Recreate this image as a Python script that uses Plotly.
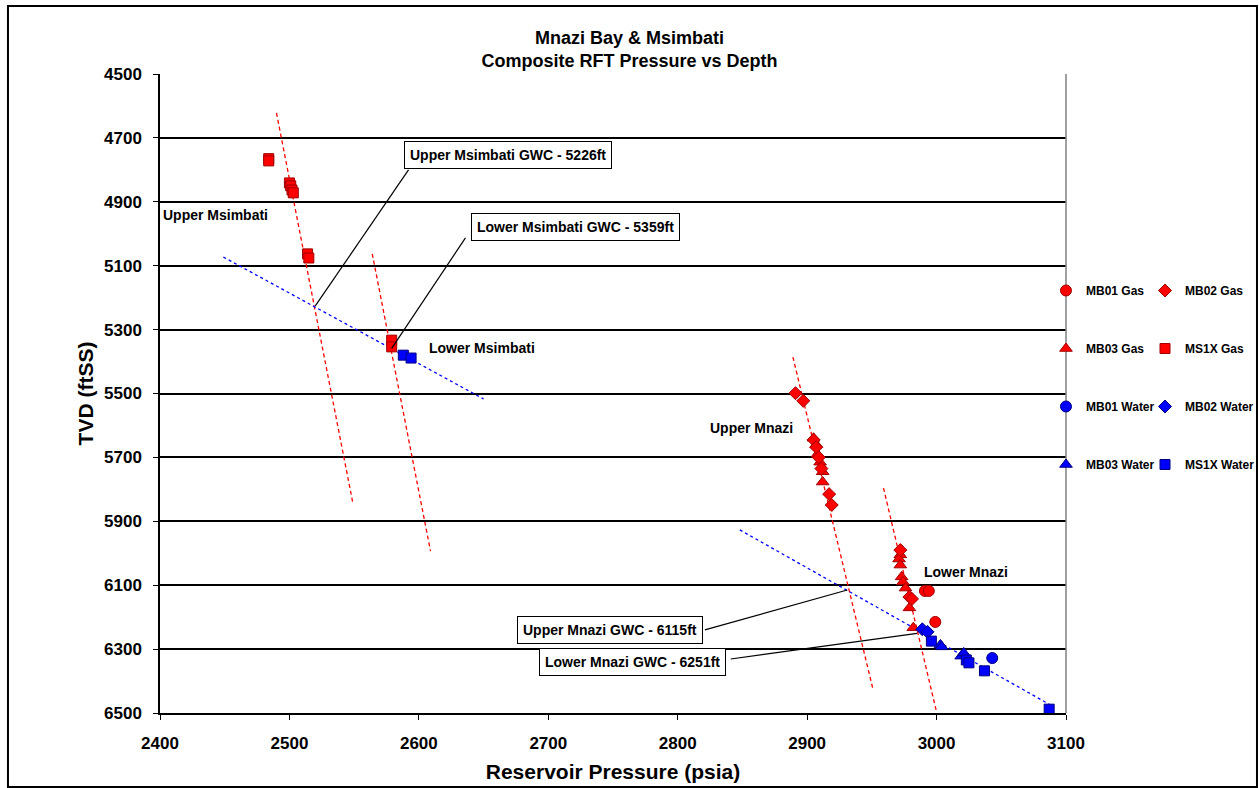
import plotly.graph_objects as go

# ---- RFT pressure (psia) / depth (ftSS) points by well and fluid ----
mb01_gas_p = [2991, 2994, 2999]
mb01_gas_d = [6118, 6118, 6215]

mb02_gas_p = [2891, 2897, 2905, 2907, 2909, 2911, 2917, 2919, 2972, 2979, 2981]
mb02_gas_d = [5499, 5523, 5645, 5668, 5700, 5735, 5815, 5849, 5990, 6137, 6143]

mb03_gas_p = [2905, 2907, 2908, 2910, 2912, 2912, 2972, 2971, 2972, 2973, 2974, 2976, 2979, 2982]
mb03_gas_d = [5640, 5660, 5690, 5715, 5745, 5777, 6005, 6018, 6037, 6074, 6090, 6109, 6171, 6233]

ms1x_gas_p = [2484, 2484, 2500, 2501, 2502, 2503, 2514, 2515, 2579, 2579]
ms1x_gas_d = [4765, 4772, 4841, 4850, 4863, 4872, 5063, 5076, 5333, 5354]

mb01_water_p = [3043]
mb01_water_d = [6328]

mb02_water_p = [2989, 2993]
mb02_water_d = [6238, 6246]

mb03_water_p = [3003, 3004, 3019, 3021]
mb03_water_d = [6287, 6293, 6322, 6312]

ms1x_water_p = [2588, 2594, 2996, 3023, 3025, 3037, 3087]
ms1x_water_d = [5380, 5389, 6275, 6334, 6343, 6368, 6488]

# ---- fitted gradient lines (end points) ----
gas_lines = {
    "Upper Msimbati": ([2490, 2549], [4622, 5843]),
    "Lower Msimbati": ([2564, 2609], [5063, 5993]),
    "Upper Mnazi": ([2889, 2951], [5386, 6428]),
    "Lower Mnazi": ([2959, 3000], [5796, 6497]),
}
water_lines = {
    "Msimbati": ([2449, 2650], [5073, 5517]),
    "Mnazi": ([2848, 3088], [5927, 6475]),
}

# ---- gas-water contacts: label, pressure at contact, depth ----
gwc_names = ["Upper Msimbati GWC - 5226ft", "Lower Msimbati GWC - 5359ft",
             "Upper Mnazi GWC - 6115ft", "Lower Mnazi GWC - 6251ft"]
gwc_pressure = [2520, 2579, 2931, 2985]
gwc_depth = [5226, 5359, 6115, 6251]
# label box centres and leader-line tails (pressure, depth)
gwc_box = [(2669, 4755), (2721, 4979), (2748, 6240), (2765, 6340)]
gwc_tail = [(2592, 4800), (2636, 5013), (2821, 6240), (2841, 6331)]

zone_names = ["Upper Msimbati", "Lower Msimbati", "Upper Mnazi", "Lower Mnazi"]
zone_pos = [(2443, 4941), (2649, 5358), (2857, 5608), (3023, 6059)]

FONT = "Arial, Liberation Sans, sans-serif"
RED, RED_EDGE = "#FF0000", "#A00000"
BLUE, BLUE_EDGE = "#0000FF", "#000080"

fig = go.Figure()

for name, (px, dy) in gas_lines.items():
    fig.add_trace(go.Scatter(x=px, y=dy, mode="lines", showlegend=False, hoverinfo="skip",
                             line=dict(color=RED, width=1.3, dash="4px,3px")))
for name, (px, dy) in water_lines.items():
    fig.add_trace(go.Scatter(x=px, y=dy, mode="lines", showlegend=False, hoverinfo="skip",
                             line=dict(color=BLUE, width=1.3, dash="3px,3px")))

series = [
    ("MB01 Gas", mb01_gas_p, mb01_gas_d, "circle", RED, RED_EDGE, "legend", 11),
    ("MB03 Gas", mb03_gas_p, mb03_gas_d, "triangle-up", RED, RED_EDGE, "legend", 11),
    ("MB01 Water", mb01_water_p, mb01_water_d, "circle", BLUE, BLUE_EDGE, "legend", 11),
    ("MB03 Water", mb03_water_p, mb03_water_d, "triangle-up", BLUE, BLUE_EDGE, "legend", 11),
    ("MB02 Gas", mb02_gas_p, mb02_gas_d, "diamond", RED, RED_EDGE, "legend2", 10),
    ("MS1X Gas", ms1x_gas_p, ms1x_gas_d, "square", RED, RED_EDGE, "legend2", 10),
    ("MB02 Water", mb02_water_p, mb02_water_d, "diamond", BLUE, BLUE_EDGE, "legend2", 10),
    ("MS1X Water", ms1x_water_p, ms1x_water_d, "square", BLUE, BLUE_EDGE, "legend2", 10),
]
for i, (name, px, dy, sym, col, edge, leg, size) in enumerate(series):
    fig.add_trace(go.Scatter(
        x=px, y=dy, mode="markers", name=name, legend=leg, legendgroup=f"g{i}",
        marker=dict(symbol=sym, size=size, color=col, line=dict(color=edge, width=1)),
    ))

# leader lines from label boxes to the contacts
for (tx, ty), gx, gy in zip(gwc_tail, gwc_pressure, gwc_depth):
    fig.add_shape(type="line", xref="x", yref="y", x0=tx, y0=ty, x1=gx, y1=gy,
                  line=dict(color="black", width=1.2))

annotations = []
for text, (bx, by) in zip(gwc_names, gwc_box):
    annotations.append(dict(x=bx, y=by, xref="x", yref="y", text=text, showarrow=False,
                            font=dict(family=FONT, size=14, color="black", weight="bold"),
                            bgcolor="white", bordercolor="black", borderwidth=1, borderpad=5))
for text, (zx, zy) in zip(zone_names, zone_pos):
    annotations.append(dict(x=zx, y=zy, xref="x", yref="y", text=text, showarrow=False,
                            font=dict(family=FONT, size=14, color="black", weight="bold")))

# outer chart frame
fig.add_shape(type="rect", xref="paper", yref="paper",
              x0=-0.1678, x1=1.2108, y0=-0.1158, y1=1.1064,
              line=dict(color="black", width=2), layer="below")
# plot-area right edge
fig.add_shape(type="line", xref="paper", yref="paper", x0=1, x1=1, y0=0, y1=1,
              line=dict(color="#808080", width=1.5))

legend_style = dict(font=dict(family=FONT, size=12, color="black", weight="bold"),
                    bgcolor="rgba(0,0,0,0)", tracegroupgap=39, itemwidth=30,
                    xanchor="left", yanchor="top", orientation="v")

fig.update_layout(
    width=1259, height=788,
    margin=dict(l=160, r=193, t=74, b=75, pad=0, autoexpand=False),
    paper_bgcolor="white", plot_bgcolor="white",
    font=dict(family=FONT, color="black"),
    title=dict(text="Mnazi Bay & Msimbati<br>Composite RFT Pressure vs Depth",
               x=0.5, xref="container", y=1 - 44 / 788, yref="container",
               xanchor="center", yanchor="middle",
               font=dict(family=FONT, size=18, color="black", weight="bold")),
    xaxis=dict(range=[2400, 3100], dtick=100, tick0=2400, showgrid=False, zeroline=False,
               showline=True, linecolor="black", linewidth=1.5,
               ticks="outside", ticklen=5, tickcolor="black", ticklabelstandoff=9,
               tickfont=dict(family=FONT, size=17, color="black", weight="bold"),
               title=dict(text="Reservoir Pressure (psia)", standoff=12,
                          font=dict(family=FONT, size=21, color="black", weight="bold"))),
    yaxis=dict(range=[6500, 4500], dtick=200, tick0=4500, showgrid=True,
               gridcolor="black", gridwidth=1.5, zeroline=False,
               showline=True, linecolor="black", linewidth=1.5,
               ticks="outside", ticklen=5, tickcolor="black", ticklabelstandoff=8,
               tickfont=dict(family=FONT, size=17, color="black", weight="bold"),
               title=dict(text="TVD (ftSS)", standoff=5,
                          font=dict(family=FONT, size=21, color="black", weight="bold"))),
    legend=dict(x=0.9779, y=0.6839, **legend_style),
    legend2=dict(x=1.0872, y=0.6839, **legend_style),
    annotations=annotations,
    showlegend=True,
)

fig.write_html("out.html")
